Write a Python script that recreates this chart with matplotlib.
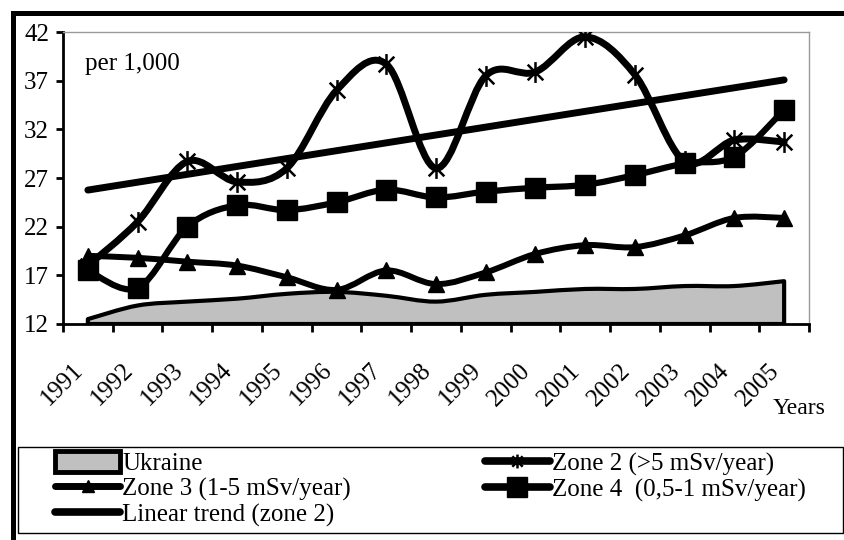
import numpy as np
import matplotlib
matplotlib.use("Agg")
import matplotlib.pyplot as plt
from matplotlib.path import Path
from matplotlib.patches import PathPatch, Patch, Rectangle
from matplotlib.lines import Line2D
from matplotlib import transforms

plt.rcParams['font.family'] = ['Liberation Serif', 'DejaVu Serif']

# ---------------- data ----------------
years = [1991, 1992, 1993, 1994, 1995, 1996, 1997, 1998, 1999, 2000,
         2001, 2002, 2003, 2004, 2005]
ukraine = [12.5, 13.9, 14.3, 14.6, 15.1, 15.3, 14.9, 14.3, 15.0, 15.3,
           15.6, 15.6, 15.9, 15.9, 16.4]
zone2 = [18.0, 22.5, 28.7, 26.6, 28.0, 36.0, 38.7, 28.0, 37.5, 37.9,
         41.5, 37.6, 28.7, 30.9, 30.7]
zone3 = [19.0, 18.8, 18.4, 18.0, 16.8, 15.5, 17.5, 16.1, 17.3, 19.2,
         20.1, 19.9, 21.1, 22.9, 22.9]
zone4 = [17.5, 15.7, 22.0, 24.2, 23.7, 24.5, 25.8, 25.0, 25.6, 26.0,
         26.3, 27.3, 28.5, 29.2, 34.0]
y_ticks = [12, 17, 22, 27, 32, 37, 42]
labels = ["Ukraine", "Zone 3 (1-5 mSv/year)", "Linear trend (zone 2)",
          "Zone 2 (>5 mSv/year)", "Zone 4  (0,5-1 mSv/year)"]

W, H = 844, 540
fig = plt.figure(figsize=(W / 100, H / 100), dpi=100)
ax = fig.add_axes([63 / W, (H - 324) / H, 746 / W, 292 / H])

x = np.arange(len(years))


def smooth_path(xs, ys):
    pts = np.column_stack([xs, ys]).astype(float)
    n = len(pts)
    verts = [pts[0]]
    codes = [Path.MOVETO]
    for i in range(n - 1):
        p0 = pts[i - 1] if i > 0 else pts[i]
        p1 = pts[i]
        p2 = pts[i + 1]
        p3 = pts[i + 2] if i + 2 < n else pts[i + 1]
        verts += [p1 + (p2 - p0) / 6.0, p2 - (p3 - p1) / 6.0, p2]
        codes += [Path.CURVE4] * 3
    return verts, codes


# Ukraine area
v, c = smooth_path(x, ukraine)
v = v + [(x[-1], 12), (x[0], 12), v[0]]
c = c + [Path.LINETO, Path.LINETO, Path.CLOSEPOLY]
ax.add_patch(PathPatch(Path(v, c), facecolor='#c0c0c0', edgecolor='black',
                       lw=3, joinstyle='round', zorder=2))

# asterisk marker
ast = Path([[0, -1], [0, 1], [-0.75, -0.75], [0.75, 0.75], [-0.75, 0.75], [0.75, -0.75]],
           [Path.MOVETO, Path.LINETO, Path.MOVETO, Path.LINETO, Path.MOVETO, Path.LINETO])

series = [
    (zone2, dict(marker=ast, markersize=15, markeredgewidth=1.8, markerfacecolor='none'), 5.0),
    (zone3, dict(marker='^', markersize=12), 4.3),
    (zone4, dict(marker='s', markersize=15), 4.5),
]
for ys, mk, lw in series:
    v, c = smooth_path(x, ys)
    ax.add_patch(PathPatch(Path(v, c), facecolor='none', edgecolor='black', lw=lw,
                           capstyle='round', joinstyle='round', zorder=3))
    ax.plot(x, ys, linestyle='none', color='black', markeredgecolor='black', zorder=4, **mk)

# linear trend for zone 2
coef = np.polyfit(x, zone2, 1)
ax.plot([x[0], x[-1]], np.polyval(coef, [x[0], x[-1]]), color='black', lw=5,
        solid_capstyle='round', zorder=5)

ax.set_xlim(-0.5, len(years) - 0.5)
ax.set_ylim(12, 42)
ax.set_yticks(y_ticks)
ax.set_yticklabels([str(t) for t in y_ticks], fontsize=18)
ax.set_xticks(np.arange(-0.5, len(years)), labels=[])
ax.tick_params(axis='y', direction='out', length=5, width=2, pad=5)
ax.tick_params(axis='x', direction='out', length=6, width=2)
for s in ['left', 'bottom']:
    ax.spines[s].set_linewidth(2)
    ax.spines[s].set_color('black')
for s in ['top', 'right']:
    ax.spines[s].set_linewidth(1)
    ax.spines[s].set_color('#9a9a9a')

off = transforms.ScaledTranslation(-8 / 100, -43 / 100, fig.dpi_scale_trans)
btr = transforms.blended_transform_factory(ax.transData, ax.transAxes) + off
for xi, yr in zip(x, years):
    ax.text(xi, 0, str(yr), transform=btr, rotation=45, ha='right', va='center',
            rotation_mode='anchor', fontsize=18)

ax.text((85 - 63) / 746, (324 - 70) / 292, "per 1,000", transform=ax.transAxes,
        fontsize=18, va='baseline', ha='left')
fig.text(773 / W, 1 - 414 / H, "Years", fontsize=17, va='baseline', ha='left')

# outer frame and legend frame
fig.add_artist(Rectangle((12.5 / W, -0.05), 1.1, 1.05 - 12.5 / H, transform=fig.transFigure,
                         fill=False, edgecolor='black', lw=3.6, zorder=0))
fig.add_artist(Rectangle((18 / W, 1 - 533 / H), (843 - 18) / W, 86 / H,
                         transform=fig.transFigure, fill=False, edgecolor='black', lw=1, zorder=1))

handles = [
    Patch(facecolor='#c0c0c0', edgecolor='black', lw=3.5),
    Line2D([], [], color='black', lw=5, marker='^', markersize=8, solid_capstyle='round'),
    Line2D([], [], color='black', lw=5.5, solid_capstyle='round'),
    Line2D([], [], color='black', lw=5.5, marker=ast, markersize=10, markeredgewidth=1.8,
           solid_capstyle='round'),
    Line2D([], [], color='black', lw=5.5, marker='s', markersize=14, solid_capstyle='round'),
]
fig.legend(handles, labels, ncol=2, mode='expand', loc='upper left',
           bbox_to_anchor=(55 / W, 1 - 452 / H, (806 - 55) / W, 0.001),
           bbox_transform=fig.transFigure, frameon=False, borderpad=0, borderaxespad=0,
           fontsize=18, handlelength=2.6, handletextpad=0.1, labelspacing=0.05,
           handleheight=0.9, numpoints=1)

fig.savefig("out.png", dpi=100)
